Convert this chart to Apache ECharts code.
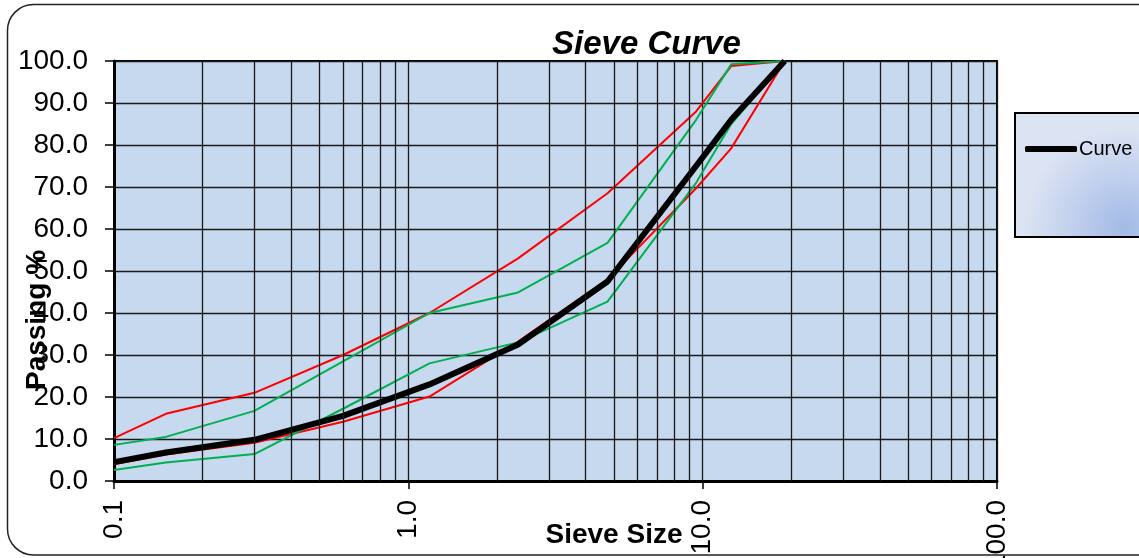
<!DOCTYPE html>
<html>
<head>
<meta charset="utf-8">
<script src="https://cdn.jsdelivr.net/npm/echarts@6/dist/echarts.min.js"></script>
<style>
html,body{margin:0;padding:0;background:#fff;}
#chart{width:1139px;height:558px;}
</style>
</head>
<body>
<div id="chart"></div>
<script>
// ---- data ----
const sieveSizes = [0.1, 0.15, 0.3, 0.6, 1.18, 2.36, 4.75, 9.5, 12.5, 19];
const curve      = [4.5, 6.8, 9.8, 15.5, 23.0, 32.5, 47.5, 75.0, 86.0, 100];
const redUpper   = [10.2, 16.0, 21.0, 30.0, 40.0, 53.0, 68.5, 88.0, 98.8, 100];
const redLower   = [4.0, 6.3, 9.1, 14.1, 20.1, 33.2, 48.0, 69.7, 79.2, 100];
const greenUpper = [8.6, 10.5, 16.7, 28.5, 40.0, 44.9, 56.7, 86.0, 99.2, 100];
const greenLower = [2.6, 4.4, 6.4, 17.2, 28.0, 33.0, 42.7, 71.0, 85.0, 100];
const minorGrid  = [0.2, 0.3, 0.4, 0.5, 0.6, 0.7, 0.8, 0.9,
                    2, 3, 4, 5, 6, 7, 8, 9,
                    20, 30, 40, 50, 60, 70, 80, 90];
const xMin = 0.1, xMax = 100;
const yMin = 0, yMax = 100, yStep = 10;

const pairs = arr => sieveSizes.map((s, i) => [s, arr[i]]);
const FONT = 'Liberation Sans, Arial, sans-serif';

const chart = echarts.init(document.getElementById('chart'), null, {renderer: 'canvas'});
chart.setOption({
  animation: false,
  backgroundColor: '#ffffff',
  title: {
    text: 'Sieve Curve', left: 552, top: 28, padding: 0,
    textStyle: {fontFamily: FONT, fontSize: 33, fontWeight: 'bold', fontStyle: 'italic', color: '#000'}
  },
  graphic: [
    {type: 'rect', z: -10, silent: true,
     shape: {x: 7.5, y: 4.5, width: 1200, height: 550.5, r: 26},
     style: {fill: '#fff', stroke: '#222', lineWidth: 1.5}},
    {type: 'rect', z: 0, silent: true,
     shape: {x: 1015, y: 113, width: 160, height: 124},
     style: {
       fill: new echarts.graphic.RadialGradient(0.68, 0.92, 0.8, [
         {offset: 0, color: '#a3bae6'},
         {offset: 1, color: '#dce4f3'}
       ]),
       stroke: '#000', lineWidth: 2
     }}
  ],
  legend: {
    data: [{name: 'Curve', icon: 'roundRect'}],
    left: 1025, top: 139, padding: 0, z: 5, itemGap: 0,
    itemWidth: 52, itemHeight: 6,
    textStyle: {fontFamily: FONT, fontSize: 20, color: '#000', padding: [0, 0, 0, -3]}
  },
  grid: {
    left: 114, right: 142, top: 61, bottom: 77,
    outerBoundsMode: 'none', containLabel: false,
    show: true, backgroundColor: '#c6d9ef', borderColor: '#000', borderWidth: 2
  },
  xAxis: {
    type: 'log', logBase: 10, min: xMin, max: xMax,
    name: 'Sieve Size', nameLocation: 'middle', nameGap: 40, nameMoveOverlap: false,
    nameTextStyle: {fontFamily: FONT, fontSize: 28, fontWeight: 'bold', color: '#000', padding: [0, 0, 0, 117]},
    axisLine: {show: true, lineStyle: {color: '#000', width: 3}},
    axisTick: {show: true, length: 8, lineStyle: {color: '#000', width: 1.5}},
    axisLabel: {rotate: 90, margin: 19, fontFamily: FONT, fontSize: 28, color: '#000',
      formatter: v => Number(v).toFixed(1)},
    splitLine: {show: true, lineStyle: {color: '#1a1a1a', width: 1.3}}
  },
  yAxis: {
    type: 'value', min: yMin, max: yMax, interval: yStep,
    name: 'Passing %', nameLocation: 'middle', nameGap: 63, nameRotate: 90, nameMoveOverlap: false,
    nameTextStyle: {fontFamily: FONT, fontSize: 28, fontWeight: 'bold', color: '#000', padding: [0, 98, 0, 0]},
    axisLine: {show: true, lineStyle: {color: '#000', width: 3}},
    axisTick: {show: true, length: 9, lineStyle: {color: '#000', width: 1.5}},
    axisLabel: {margin: 26, fontFamily: FONT, fontSize: 28, color: '#000',
      formatter: v => Number(v).toFixed(1)},
    splitLine: {show: true, lineStyle: {color: '#1a1a1a', width: 1.3}}
  },
  series: [
    {name: 'minor grid', type: 'line', data: [], z: 1, silent: true,
     markLine: {silent: true, symbol: ['none', 'none'], label: {show: false},
       lineStyle: {color: '#1a1a1a', width: 1.3, type: 'solid'},
       emphasis: {disabled: true},
       data: minorGrid.map(v => ({xAxis: v}))}},
    {name: 'Upper Limit 1', type: 'line', data: pairs(redUpper), z: 3, showSymbol: false,
     lineStyle: {color: '#ff0000', width: 2}, itemStyle: {color: '#ff0000'}},
    {name: 'Lower Limit 1', type: 'line', data: pairs(redLower), z: 3, showSymbol: false,
     lineStyle: {color: '#ff0000', width: 2}, itemStyle: {color: '#ff0000'}},
    {name: 'Upper Limit 2', type: 'line', data: pairs(greenUpper), z: 3, showSymbol: false,
     lineStyle: {color: '#00b050', width: 2}, itemStyle: {color: '#00b050'}},
    {name: 'Lower Limit 2', type: 'line', data: pairs(greenLower), z: 3, showSymbol: false,
     lineStyle: {color: '#00b050', width: 2}, itemStyle: {color: '#00b050'}},
    {name: 'Curve', type: 'line', data: pairs(curve), z: 4, showSymbol: false,
     lineStyle: {color: '#000', width: 6}, itemStyle: {color: '#000'}}
  ]
});
</script>
</body>
</html>
